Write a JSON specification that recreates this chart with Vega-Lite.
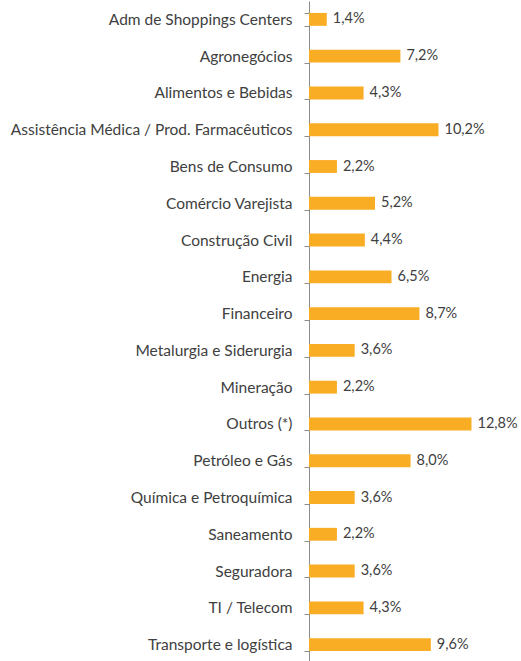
{
  "$schema": "https://vega.github.io/schema/vega-lite/v6.json",
  "autosize": "none",
  "width": 212,
  "height": 662,
  "padding": {"left": 309, "top": 1, "right": 0, "bottom": 0},
  "background": "white",
  "config": {
    "view": {"stroke": null},
    "font": "Lato",
    "locale": {"number": {"decimal": ",", "thousands": ".", "grouping": [3], "currency": ["R$", ""]}}
  },
  "data": {"values": [
    {"setor": "Adm de Shoppings Centers", "valor": 0.014},
    {"setor": "Agronegócios", "valor": 0.072},
    {"setor": "Alimentos e Bebidas", "valor": 0.043},
    {"setor": "Assistência Médica / Prod. Farmacêuticos", "valor": 0.102},
    {"setor": "Bens de Consumo", "valor": 0.022},
    {"setor": "Comércio Varejista", "valor": 0.052},
    {"setor": "Construção Civil", "valor": 0.044},
    {"setor": "Energia", "valor": 0.065},
    {"setor": "Financeiro", "valor": 0.087},
    {"setor": "Metalurgia e Siderurgia", "valor": 0.036},
    {"setor": "Mineração", "valor": 0.022},
    {"setor": "Outros (*)", "valor": 0.128},
    {"setor": "Petróleo e Gás", "valor": 0.080},
    {"setor": "Química e Petroquímica", "valor": 0.036},
    {"setor": "Saneamento", "valor": 0.022},
    {"setor": "Seguradora", "valor": 0.036},
    {"setor": "TI / Telecom", "valor": 0.043},
    {"setor": "Transporte e logística", "valor": 0.096}
  ]},
  "encoding": {
    "y": {
      "field": "setor", "type": "nominal", "sort": null,
      "scale": {"paddingInner": 0.65, "paddingOuter": 0.325},
      "axis": {
        "title": null, "tickBand": "extent", "tickSize": 5,
        "domainColor": "#8c8c8c", "tickColor": "#8c8c8c",
        "labelFontSize": 15.5, "labelColor": "#404040", "labelPadding": 12,
        "labelLimit": 320
      }
    },
    "x": {
      "field": "valor", "type": "quantitative",
      "scale": {"domain": [0, 0.167], "nice": false},
      "axis": null
    }
  },
  "layer": [
    {"mark": {"type": "bar", "color": "#F9AD24"}},
    {"mark": {"type": "text", "align": "left", "dx": 6, "fontSize": 14.5, "color": "#404040"},
     "encoding": {"text": {"field": "valor", "type": "quantitative", "format": ".1%"}}}
  ]
}
